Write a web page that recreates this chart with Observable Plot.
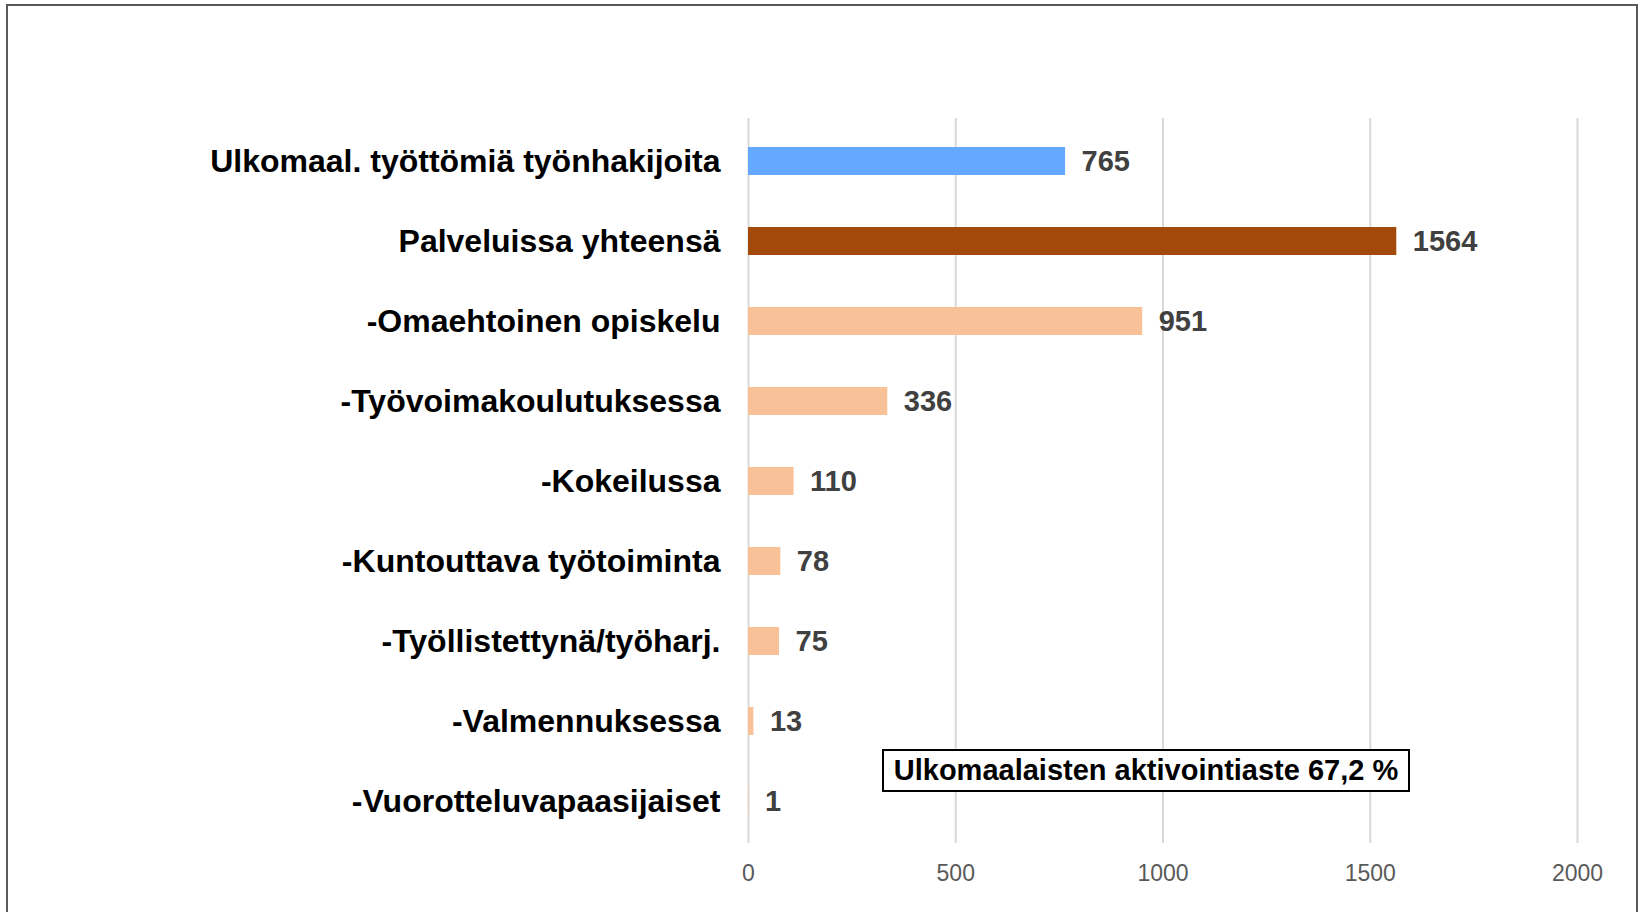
<!DOCTYPE html>
<html><head><meta charset="utf-8">
<script src="https://cdn.jsdelivr.net/npm/d3@7"></script>
<script src="https://cdn.jsdelivr.net/npm/@observablehq/plot@0.6"></script>
<style>
html,body{margin:0;padding:0;background:#fff;overflow:hidden;}
#wrap{position:relative;width:1641px;height:912px;font-family:"Liberation Sans",Arial,sans-serif;}
#border{position:absolute;left:6px;top:4px;width:1632px;height:940px;border:2px solid #595959;box-sizing:border-box;pointer-events:none;}
#note{position:absolute;left:882px;top:749px;width:528px;height:43px;border:2px solid #000;box-sizing:border-box;font-weight:bold;font-size:29px;display:flex;align-items:center;justify-content:center;color:#000;background:#fff;white-space:nowrap;}
</style></head>
<body><div id="wrap"><div id="chart"></div><div id="border"></div><div id="note"></div></div>
<script>
const categories = [
  "Ulkomaal. työttömiä työnhakijoita",
  "Palveluissa yhteensä",
  "-Omaehtoinen opiskelu",
  "-Työvoimakoulutuksessa",
  "-Kokeilussa",
  "-Kuntouttava työtoiminta",
  "-Työllistettynä/työharj.",
  "-Valmennuksessa",
  "-Vuorotteluvapaasijaiset"
];
const values = [765, 1564, 951, 336, 110, 78, 75, 13, 1];
const groups = ["unemployed", "services", "service", "service", "service", "service", "service", "service", "service"];
const groupDomain = ["unemployed", "services", "service"];
const groupColors = ["#65A8FF", "#A34A0A", "#F8C197"];
const xTicks = [0, 500, 1000, 1500, 2000];
const annotation = "Ulkomaalaisten aktivointiaste 67,2 %";

const data = categories.map((c, i) => ({label: c, value: values[i], group: groups[i]}));

const chart = Plot.plot({
  width: 1641,
  height: 912,
  marginLeft: 748,
  marginRight: 64,
  marginTop: 118,
  marginBottom: 69,
  style: {fontFamily: "'Liberation Sans', Arial, sans-serif", background: "#fff"},
  x: {domain: [0, 2000]},
  y: {domain: categories, paddingInner: 0.65, paddingOuter: 0.325},
  color: {domain: groupDomain, range: groupColors},
  marks: [
    Plot.gridX({ticks: xTicks, stroke: "#d9d9d9", strokeOpacity: 1, strokeWidth: 2}),
    Plot.barX(data, {x: "value", y: "label", fill: "group"}),
    Plot.text(data, {x: "value", y: "label", text: d => String(d.value), dx: 16, textAnchor: "start",
      fill: "#404040", fontSize: 29, fontWeight: "bold"}),
    Plot.axisY({tickSize: 0, tickPadding: 28, fontSize: 32, fontWeight: "bold", color: "#000", label: null}),
    Plot.axisX({ticks: xTicks, tickFormat: d3.format("d"), tickSize: 0, tickPadding: 21, fontSize: 23, color: "#595959", label: null})
  ]
});
document.getElementById("chart").appendChild(chart);
document.getElementById("note").textContent = annotation;
</script>
</body></html>
